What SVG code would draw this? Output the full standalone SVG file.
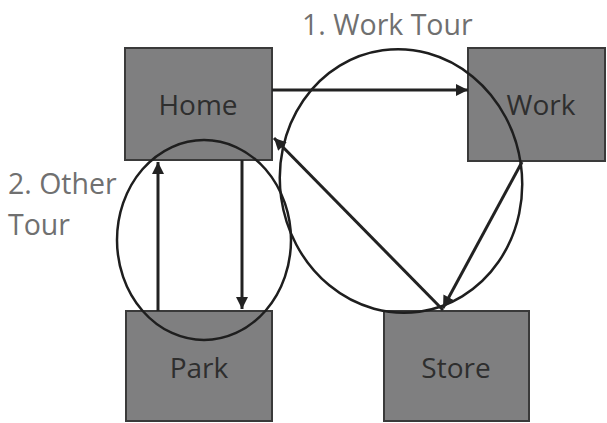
<svg xmlns="http://www.w3.org/2000/svg" width="607" height="423" viewBox="0 0 607 423">
<style>
.box{fill:#7f7f80;stroke:#3a3a3a;stroke-width:2}
.nt{font-family:"Open Sans","Liberation Sans",sans-serif;font-size:28px;fill:#2e2e2e;text-anchor:middle}
.lt{font-family:"Open Sans","Liberation Sans",sans-serif;font-size:28.5px;fill:#707070}
.ln{fill:none;stroke:#222;stroke-width:3}
.tour{fill:none;stroke:#1e1e1e;stroke-width:2.5}
</style>
<defs>
<marker id="ah" viewBox="0 0 10 10" refX="10" refY="5" markerWidth="4.2" markerHeight="4" orient="auto" markerUnits="strokeWidth">
<path d="M0,0 L10,5 L0,10 z" fill="#222"/>
</marker>
</defs>
<rect width="607" height="423" fill="#fff"/>
<g id="home"><rect class="box" x="125" y="48" width="147" height="112"/><text class="nt" x="198" y="115">Home</text></g>
<g id="work"><rect class="box" x="468" y="48" width="137" height="113"/><text class="nt" x="541" y="115">Work</text></g>
<g id="park"><rect class="box" x="126" y="311" width="146" height="110"/><text class="nt" x="199" y="378">Park</text></g>
<g id="store"><rect class="box" x="384" y="311" width="145" height="110"/><text class="nt" x="456" y="378">Store</text></g>
<g id="labels">
<text class="lt" x="302" y="35">1. Work Tour</text>
<text class="lt" x="8" y="194">2. Other</text>
<text class="lt" x="8" y="235">Tour</text>
</g>
<g id="tours">
<ellipse class="tour" cx="401" cy="181" rx="121" ry="132" transform="rotate(-8 401 181)"/>
<ellipse class="tour" cx="204" cy="240" rx="87" ry="100"/>
</g>
<g id="connectors">
<line class="ln" x1="272" y1="90" x2="468" y2="90" marker-end="url(#ah)"/>
<line class="ln" x1="158" y1="311" x2="158" y2="162" marker-end="url(#ah)"/>
<line class="ln" x1="242" y1="160" x2="242" y2="309" marker-end="url(#ah)"/>
<line class="ln" x1="522" y1="162" x2="443" y2="308" marker-end="url(#ah)"/>
<line class="ln" x1="443" y1="310" x2="274" y2="138" marker-end="url(#ah)"/>
</g>
</svg>
